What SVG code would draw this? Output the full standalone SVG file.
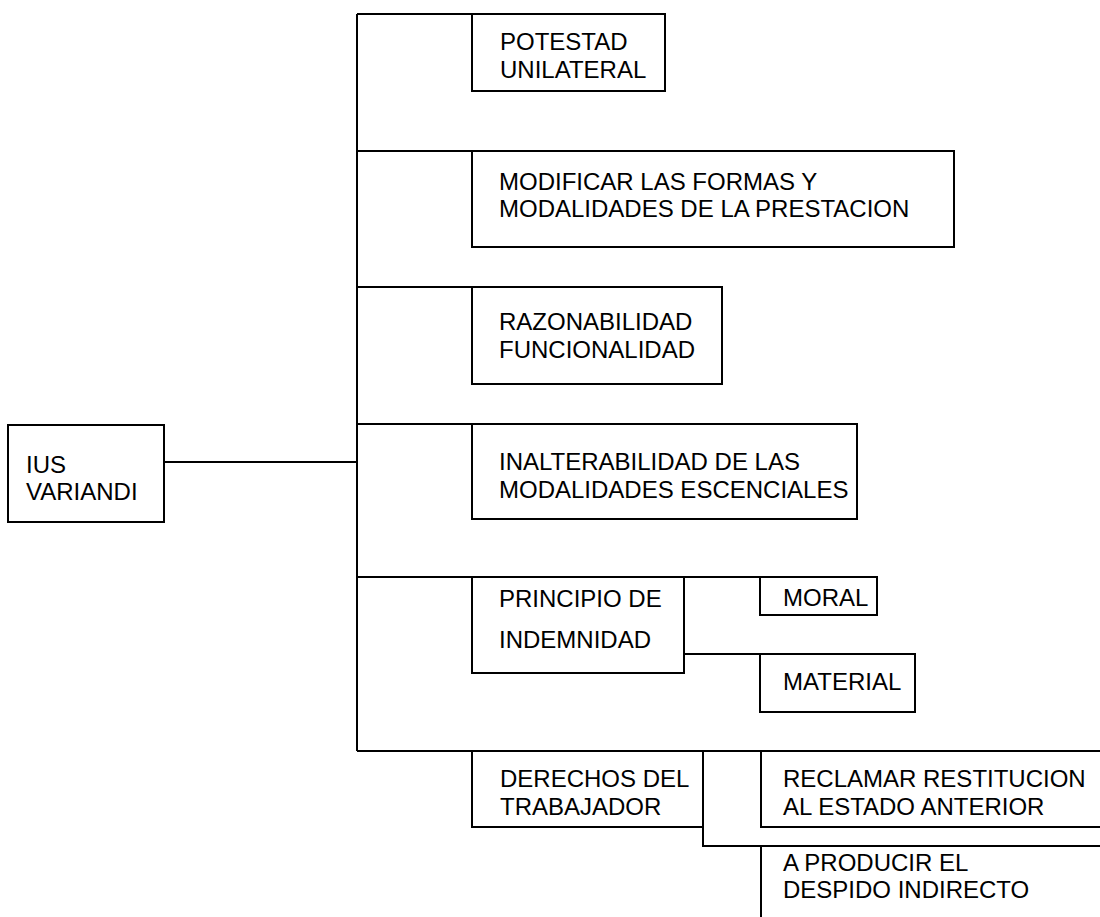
<svg xmlns="http://www.w3.org/2000/svg" width="1100" height="917" viewBox="0 0 1100 917">
<style>
.b{fill:#fff;stroke:#000;stroke-width:2}
.o{fill:none;stroke:#000;stroke-width:2}
.c{fill:none;stroke:#000;stroke-width:2}
text{font-family:"Liberation Sans",Arial,sans-serif;font-size:24px;fill:#000}
</style>
<rect width="1100" height="917" fill="#fff"/>
<g id="connectors">
<path class="c" d="M357,14 V751"/>
<path class="c" d="M357,14 H472 M357,151 H472 M357,287 H472 M357,424 H472 M357,577 H472 M357,751 H472"/>
<path class="c" d="M164,462 H357"/>
<path class="c" d="M684,577 H760 M684,654 H760"/>
<path class="c" d="M703,751 H761 M703,751 V846 H761"/>
</g>
<g id="ius">
<rect class="b" x="8" y="425" width="156" height="97"/>
<text x="26" y="473">IUS</text>
<text x="26" y="500">VARIANDI</text>
</g>
<g id="potestad">
<rect class="b" x="472" y="14" width="193" height="77"/>
<text x="500" y="50">POTESTAD</text>
<text x="500" y="78">UNILATERAL</text>
</g>
<g id="modificar">
<rect class="b" x="472" y="151" width="482" height="96"/>
<text x="499" y="190">MODIFICAR LAS FORMAS Y</text>
<text x="499" y="217">MODALIDADES DE LA PRESTACION</text>
</g>
<g id="razonabilidad">
<rect class="b" x="472" y="287" width="250" height="97"/>
<text x="499" y="330">RAZONABILIDAD</text>
<text x="499" y="358">FUNCIONALIDAD</text>
</g>
<g id="inalterabilidad">
<rect class="b" x="472" y="424" width="385" height="95"/>
<text x="499" y="470">INALTERABILIDAD DE LAS</text>
<text x="499" y="498">MODALIDADES ESCENCIALES</text>
</g>
<g id="principio">
<rect class="b" x="472" y="577" width="212" height="96"/>
<text x="499" y="607">PRINCIPIO DE</text>
<text x="499" y="648">INDEMNIDAD</text>
</g>
<g id="moral">
<rect class="b" x="760" y="577" width="117" height="38"/>
<text x="783" y="606">MORAL</text>
</g>
<g id="material">
<rect class="b" x="760" y="654" width="155" height="58"/>
<text x="783" y="690">MATERIAL</text>
</g>
<g id="derechos">
<rect class="b" x="472" y="751" width="231" height="76"/>
<text x="500" y="787">DERECHOS DEL</text>
<text x="500" y="815">TRABAJADOR</text>
</g>
<g id="reclamar">
<path class="o" d="M1101,751 H761 V827 H1101"/>
<text x="783" y="787">RECLAMAR RESTITUCION</text>
<text x="783" y="815">AL ESTADO ANTERIOR</text>
</g>
<g id="producir">
<path class="o" d="M1101,846 H761 V918"/>
<text x="783" y="871">A PRODUCIR EL</text>
<text x="783" y="898">DESPIDO INDIRECTO</text>
</g>
</svg>
